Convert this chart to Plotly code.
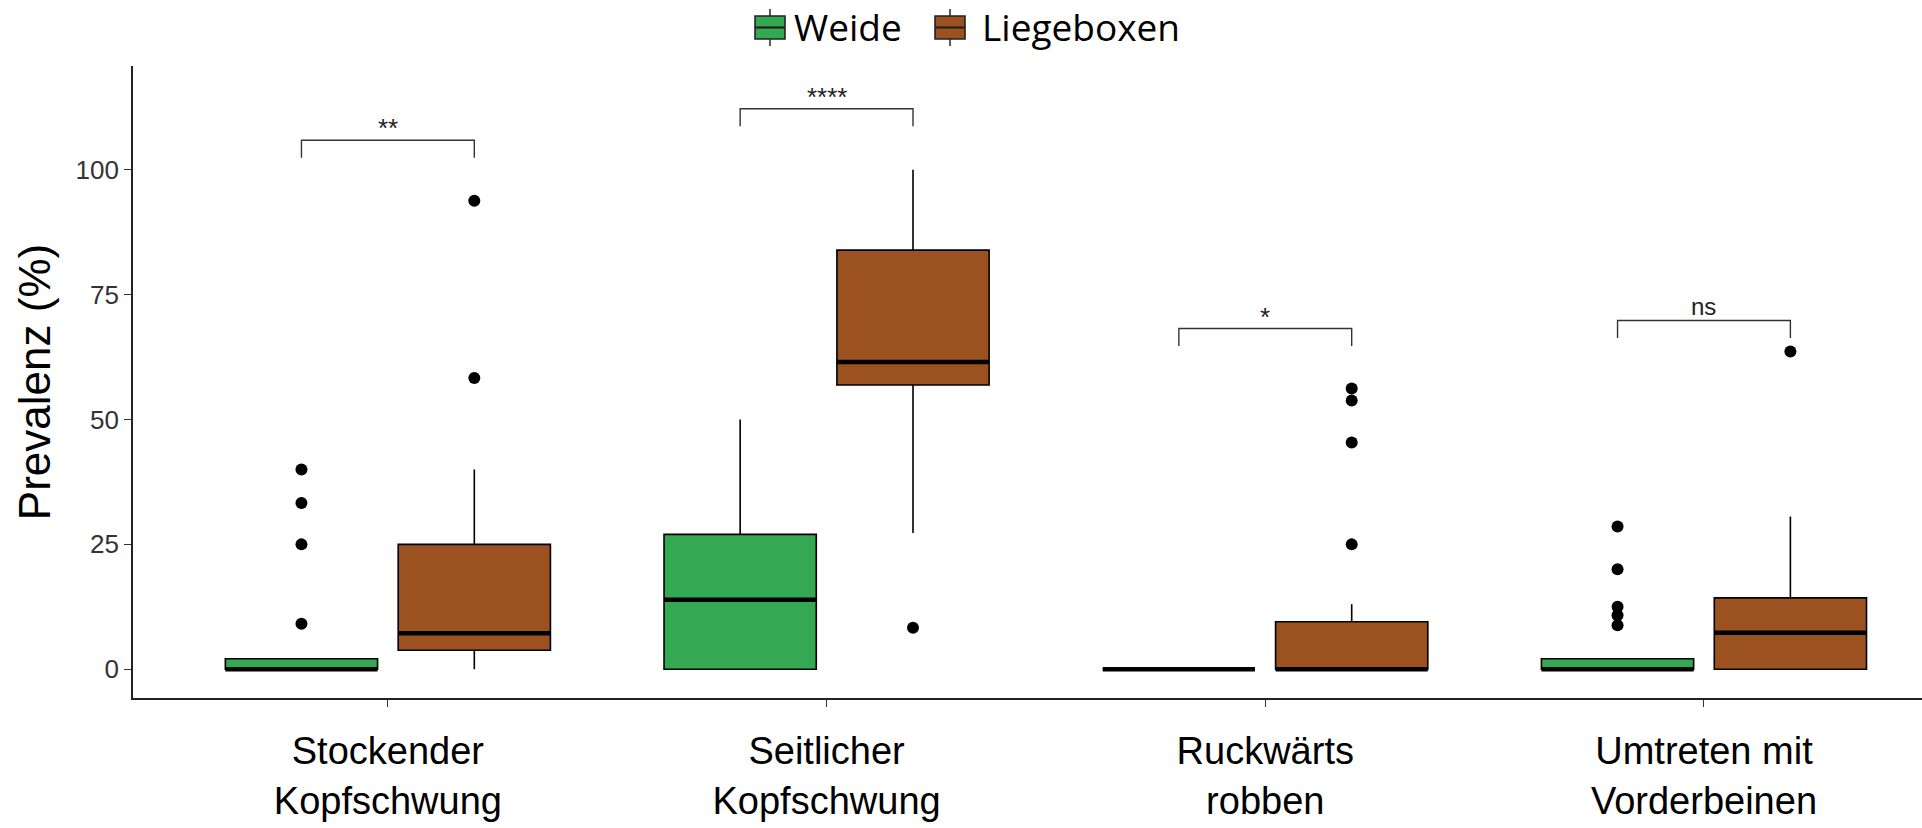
import plotly.graph_objects as go

# Behaviour categories (x axis)
categories = ["Stockender<br>Kopfschwung", "Seitlicher<br>Kopfschwung",
              "Ruckwärts<br>robben", "Umtreten mit<br>Vorderbeinen"]

# Housing systems
groups = ["Weide", "Liegeboxen"]
colors = {"Weide": "#35A853", "Liegeboxen": "#9C5220"}

# Box statistics, prevalence in percent – Weide
weide_q1 = [0.0, 0.0, 0.0, 0.0]
weide_median = [0.0, 13.9, 0.0, 0.0]
weide_q3 = [2.1, 27.0, 0.0, 2.1]
weide_lower = [0.0, 0.0, 0.0, 0.0]
weide_upper = [2.1, 50.0, 0.0, 2.1]
weide_outliers = [[9.1, 25.0, 33.3, 40.0], [], [], [8.8, 10.8, 12.5, 20.0, 28.6]]

# Box statistics, prevalence in percent – Liegeboxen
lieg_q1 = [3.8, 56.9, 0.0, 0.0]
lieg_median = [7.2, 61.5, 0.0, 7.3]
lieg_q3 = [25.0, 83.9, 9.5, 14.3]
lieg_lower = [0.0, 27.3, 0.0, 0.0]
lieg_upper = [40.0, 100.0, 13.0, 30.6]
lieg_outliers = [[58.3, 93.8], [8.3], [25.0, 45.4, 53.8, 56.2], [63.6]]

# Pairwise test results and bracket heights
comparisons = ["**", "****", "*", "ns"]
bracket_y = [105.9, 112.2, 68.2, 69.8]

stats = {
    "Weide": (weide_q1, weide_median, weide_q3, weide_lower, weide_upper, weide_outliers),
    "Liegeboxen": (lieg_q1, lieg_median, lieg_q3, lieg_lower, lieg_upper, lieg_outliers),
}

W, H = 1922, 828
ML, MR, MT, MB = 133, 0, 66, 130
PW, PH = W - ML - MR, H - MT - MB

DODGE = 0.197      # half distance between the two boxes of a category
BOX_W = 0.347      # box width in axis units
idx = list(range(len(categories)))

fig = go.Figure()

for gi, g in enumerate(groups):
    q1, med, q3, lo, hi, outl = stats[g]
    off = -DODGE if gi == 0 else DODGE
    xs = [i + off for i in idx]
    fig.add_trace(go.Box(
        name=g, x=xs, q1=q1, median=med, q3=q3, lowerfence=lo, upperfence=hi,
        orientation="v", width=BOX_W, whiskerwidth=0, boxpoints=False,
        fillcolor=colors[g], line=dict(color="black", width=1.6),
        showlegend=False,
    ))
    # thicker median line
    mx, my = [], []
    for x, m in zip(xs, med):
        mx += [x - BOX_W / 2, x + BOX_W / 2, None]
        my += [m, m, None]
    fig.add_trace(go.Scatter(x=mx, y=my, mode="lines",
                             line=dict(color="black", width=4.5),
                             showlegend=False, hoverinfo="skip"))
    # outliers
    ox, oy = [], []
    for x, pts in zip(xs, outl):
        ox += [x] * len(pts)
        oy += pts
    fig.add_trace(go.Scatter(x=ox, y=oy, mode="markers",
                             marker=dict(color="black", size=12),
                             showlegend=False))

# significance brackets
for i, (lab, yb) in enumerate(zip(comparisons, bracket_y)):
    x0, x1 = i - DODGE, i + DODGE
    tick = 3.5
    fig.add_shape(type="path",
                  path=f"M {x0},{yb - tick} L {x0},{yb} L {x1},{yb} L {x1},{yb - tick}",
                  xref="x", yref="y", line=dict(color="#333333", width=1.4))
    fig.add_annotation(x=i, y=yb, xref="x", yref="y", text=lab, showarrow=False,
                       yanchor="bottom", yshift=-5 if lab != "ns" else -1,
                       font=dict(family="Liberation Sans", size=26 if lab != "ns" else 24,
                                 color="#222222"))


# legend drawn as box glyphs with labels above the panel
def px_x(p):
    return (p - ML) / PW


def px_y(p):
    return (H - MB - p) / PH


legend_slots = [(755, 792), (935, 980)]
for g, (ix, tx) in zip(groups, legend_slots):
    cx = ix + 15
    fig.add_shape(type="line", xref="paper", yref="paper",
                  x0=px_x(cx), x1=px_x(cx), y0=px_y(9), y1=px_y(46),
                  line=dict(color="#333333", width=1.6))
    fig.add_shape(type="rect", xref="paper", yref="paper",
                  x0=px_x(ix), x1=px_x(ix + 30), y0=px_y(16), y1=px_y(39),
                  fillcolor=colors[g], line=dict(color="#222222", width=1.6))
    fig.add_shape(type="line", xref="paper", yref="paper",
                  x0=px_x(ix), x1=px_x(ix + 30), y0=px_y(27.5), y1=px_y(27.5),
                  line=dict(color="#222222", width=2.2))
    fig.add_annotation(xref="paper", yref="paper", x=px_x(tx), y=px_y(27),
                       xanchor="left", yanchor="middle", showarrow=False, text=g,
                       font=dict(family="Open Sans", size=37, color="black"))

fig.update_layout(
    width=W, height=H,
    margin=dict(l=ML, r=MR, t=MT, b=MB),
    plot_bgcolor="white", paper_bgcolor="white",
    boxmode="overlay", showlegend=False,
    font=dict(family="Liberation Sans", color="black"),
    xaxis=dict(
        range=[-0.581, 3.497], tickmode="array", tickvals=idx, ticktext=categories,
        showline=True, linecolor="#222222", linewidth=1.6,
        ticks="outside", ticklen=7, tickwidth=1.3, tickcolor="#333333",
        tickfont=dict(size=38, color="black"), showgrid=False, zeroline=False,
        ticklabelstandoff=12, automargin=False,
    ),
    yaxis=dict(
        range=[-5.75, 120.75], tickvals=[0, 25, 50, 75, 100],
        showline=True, linecolor="#222222", linewidth=1.6,
        ticks="outside", ticklen=7, tickwidth=1.3, tickcolor="#333333",
        tickfont=dict(size=26, color="#333333"), showgrid=False, zeroline=False,
        title=dict(text="Prevalenz (%)", font=dict(size=44, color="black"), standoff=11),
        automargin=False,
    ),
)

fig.write_html("out.html")
